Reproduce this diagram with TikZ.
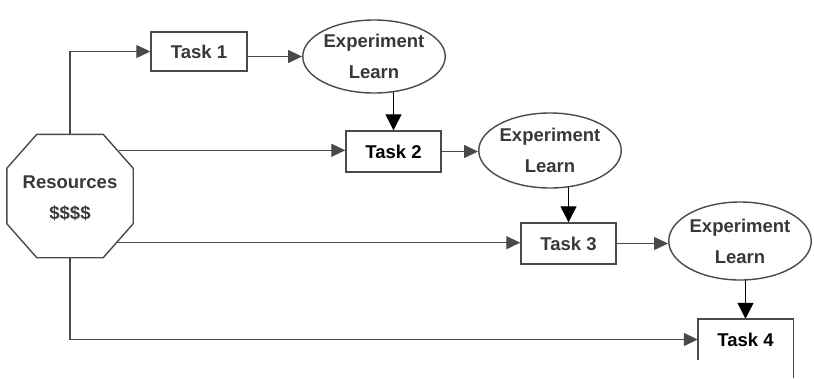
\documentclass[tikz,border=0pt]{standalone}
\usepackage{fontspec}
\setmainfont{Liberation Sans}
\usetikzlibrary{arrows.meta,shapes.geometric,calc,backgrounds}
\definecolor{ink}{HTML}{4A4A4A}
\definecolor{txt}{HTML}{383838}
\tikzset{
  every node/.style={font=\bfseries\fontsize{18.5bp}{31bp}\selectfont, text=txt,
    align=center, inner sep=0pt},
  taskbox/.style={draw=ink, line width=1.4bp, minimum width=95bp,
    minimum height=41bp, fill=white},
  idea/.style={ellipse, draw=ink, line width=1.4bp, fill=white, inner sep=0pt},
  octo/.style={draw=ink, line width=1.4bp, fill=white},
  flow/.style={draw=ink, line width=1.3bp, -{Triangle[length=14bp,width=13bp]}},
  drop/.style={draw=black, line width=1.2bp, -{Triangle[length=16bp,width=16bp]}},
}
\begin{document}
\begin{tikzpicture}[x=1bp,y=-1bp]
\useasboundingbox (0,0) rectangle (814,378);

% resource octagon: text node plus a chamfered outline
\node[minimum width=126bp, minimum height=123bp] (res) at (70,196) {};
\draw[octo] ($(res.north west)+(30,0)$) -- ($(res.north east)+(-30,0)$)
  -- ($(res.north east)+(0,34)$) -- ($(res.south east)+(0,-34)$)
  -- ($(res.south east)+(-30,0)$) -- ($(res.south west)+(30,0)$)
  -- ($(res.south west)+(0,-34)$) -- ($(res.north west)+(0,34)$) -- cycle;
\node at (70,198) {Resources\\\$\$\$\$};
\coordinate (res-up) at ($(res.north east)+(-14,16)$);
\coordinate (res-dn) at ($(res.south east)+(-16,-15)$);

% tasks
\node[taskbox, minimum width=96bp, minimum height=39bp] (t1) at (199,51.5) {Task 1};
\node[taskbox, text=black] (t2) at (393.5,151.5) {Task 2};
\node[taskbox] (t3) at (568.5,243.5) {Task 3};
\node[minimum width=95bp, minimum height=41bp, text=black] (t4) at (745.5,339.5) {Task 4};
\draw[ink, line width=1.4bp] (t4.south west) -- (t4.north west) -- (t4.north east)
  -- (t4.north east |- 0,378);

% experiment / learn loops
\node[idea, minimum width=108bp, minimum height=73bp] (e1) at (374,56.5) {Experiment\\Learn};
\node[idea, minimum width=110bp, minimum height=75bp] (e2) at (550,150.5) {Experiment\\Learn};
\node[idea, minimum width=141bp, minimum height=78bp] (e3) at (740,241) {Experiment\\Learn};

\begin{pgfonlayer}{background}
  % funding lines from the resource pool
  \draw[flow] (res.north) |- (t1.west);
  \draw[flow] (res-up) -- (res-up -| t2.west);
  \draw[flow] (res-dn) -- (res-dn -| t3.west);
  \draw[flow] (res.south) |- (t4.west);
  % task to experiment
  \draw[flow] (t1.east |- e1) -- (e1.west);
  \draw[flow] (t2.east) -- (t2.east -| e2.west);
  \draw[flow] (t3.east) -- (t3.east -| e3.west);
  % what is learned feeds the next task
  \draw[drop] (t2.north |- e1.center) -- (t2.north);
  \draw[drop] (t3.north |- e2.center) -- (t3.north);
  \draw[drop] (t4.north |- e3.center) -- (t4.north);
\end{pgfonlayer}
\end{tikzpicture}
\end{document}
